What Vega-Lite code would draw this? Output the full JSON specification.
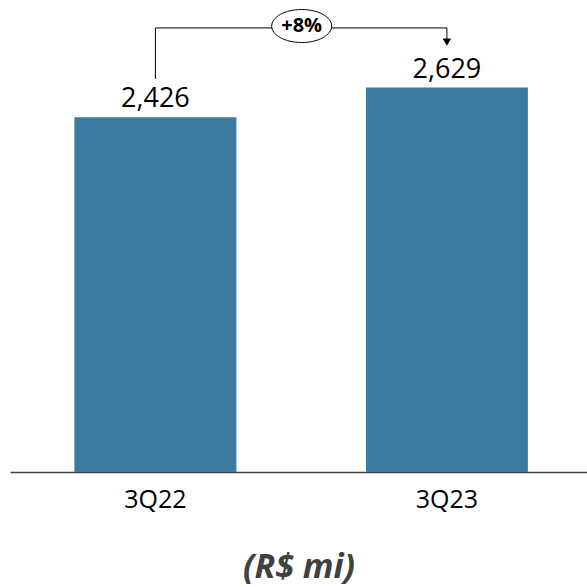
{
  "$schema": "https://vega.github.io/schema/vega-lite/v6.json",
  "width": 577,
  "height": 472,
  "autosize": "none",
  "padding": {"left": 10, "top": 0, "right": 0, "bottom": 115},
  "background": "white",
  "config": {"view": {"stroke": null}},
  "datasets": {
    "bars": [
      {"period": "3Q22", "value": 2426, "label": "2,426"},
      {"period": "3Q23", "value": 2629, "label": "2,629"}
    ],
    "legs": [
      {"period": "3Q22", "y": 2688, "y2": 3037},
      {"period": "3Q23", "y": 3037, "y2": 2960}
    ],
    "span": [
      {"from": "3Q22", "to": "3Q23", "y": 3037}
    ],
    "arrowhead": [
      {"period": "3Q23", "y": 2940}
    ],
    "growth": [
      {"period": "3Q22", "y": 3050, "text": "+8%"}
    ]
  },
  "layer": [
    {
      "data": {"name": "bars"},
      "mark": {"type": "bar", "color": "#3d7ca0"},
      "encoding": {
        "x": {
          "field": "period", "type": "nominal", "sort": null,
          "scale": {"paddingInner": 0.4443, "paddingOuter": 0.2118, "align": 0.5215},
          "axis": {
            "title": "(R$ mi)", "labelAngle": 0, "labelFont": "Open Sans", "labelFontSize": 25,
            "labelColor": "#000000", "labelPadding": 15, "ticks": false,
            "domainColor": "#404040", "domainWidth": 1.5,
            "titleFont": "Open Sans", "titleFontSize": 34, "titleFontStyle": "italic",
            "titleFontWeight": "bold", "titleColor": "#404040", "titlePadding": 38
          }
        },
        "y": {
          "field": "value", "type": "quantitative",
          "scale": {"domain": [0, 3228], "nice": false, "zero": true},
          "axis": null
        }
      }
    },
    {
      "data": {"name": "bars"},
      "mark": {"type": "text", "font": "Open Sans", "fontSize": 27, "baseline": "alphabetic", "dy": -10, "color": "#000000"},
      "encoding": {
        "x": {"field": "period", "type": "nominal", "sort": null},
        "y": {"field": "value", "type": "quantitative"},
        "text": {"field": "label"}
      }
    },
    {
      "data": {"name": "legs"},
      "mark": {"type": "rule", "color": "#000000", "strokeWidth": 1},
      "encoding": {
        "x": {"field": "period", "type": "nominal", "sort": null},
        "y": {"field": "y", "type": "quantitative"},
        "y2": {"field": "y2"}
      }
    },
    {
      "data": {"name": "span"},
      "mark": {"type": "rule", "color": "#000000", "strokeWidth": 1},
      "encoding": {
        "x": {"field": "from", "type": "nominal", "sort": null},
        "x2": {"field": "to"},
        "y": {"field": "y", "type": "quantitative"}
      }
    },
    {
      "data": {"name": "arrowhead"},
      "mark": {"type": "point", "shape": "triangle-down", "filled": true, "color": "#000000", "size": 70, "opacity": 1},
      "encoding": {
        "x": {"field": "period", "type": "nominal", "sort": null},
        "y": {"field": "y", "type": "quantitative"}
      }
    },
    {
      "data": {"name": "growth"},
      "mark": {"type": "point", "shape": "M-1,0C-1,-0.304 -0.552,-0.55 0,-0.55C0.552,-0.55 1,-0.304 1,0C1,0.304 0.552,0.55 0,0.55C-0.552,0.55 -1,0.304 -1,0Z", "size": 3600, "filled": true, "fill": "#ffffff", "stroke": "#000000", "strokeWidth": 1, "opacity": 1},
      "encoding": {
        "x": {"field": "period", "type": "nominal", "sort": null, "bandPosition": 1.403},
        "y": {"field": "y", "type": "quantitative"}
      }
    },
    {
      "data": {"name": "growth"},
      "mark": {"type": "text", "font": "Open Sans", "fontSize": 20, "fontWeight": "bold", "baseline": "middle", "color": "#000000"},
      "encoding": {
        "x": {"field": "period", "type": "nominal", "sort": null, "bandPosition": 1.403},
        "y": {"field": "y", "type": "quantitative"},
        "text": {"field": "text"}
      }
    }
  ]
}
